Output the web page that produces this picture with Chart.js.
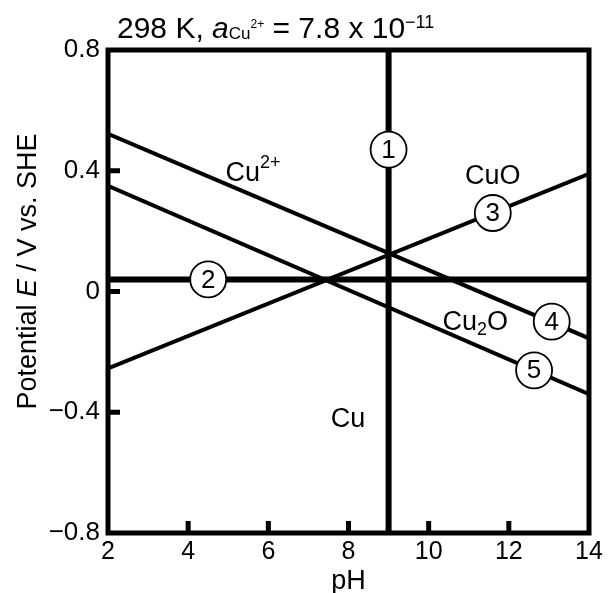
<!DOCTYPE html>
<html>
<head>
<meta charset="utf-8">
<script src="https://cdn.jsdelivr.net/npm/chart.js@4"></script>
<style>
  html, body { margin: 0; padding: 0; background: #fff; }
</style>
</head>
<body>
<canvas id="chart" width="613" height="593"></canvas>
<script>
// pH range and boundary lines of the Pourbaix diagram (E in V vs. SHE)
const phEnds = [2, 14];
const line1Ph = [9, 9];
const line1E = [-0.8, 0.8];
const line2E = [0.04, 0.04];
const line3E = [-0.255, 0.39];
const line4E = [0.522, -0.155];
const line5E = [0.35, -0.34];

// circled line numbers
const markerLabels = ['1', '2', '3', '4', '5'];
const markerPh = [9.0, 4.5, 11.6, 13.07, 12.63];
const markerE = [0.47, 0.04, 0.26, -0.10, -0.261];

// species regions
const regionPh = [5.62, 11.6, 11.16, 7.99];
const regionE = [0.40, 0.39, -0.094, -0.415];
const regionText = [
    [{ t: 'Cu' }, { t: '2+', size: 18, dy: -13 }],
    [{ t: 'CuO' }],
    [{ t: 'Cu' }, { t: '2', size: 18, dy: 5 }, { t: 'O' }],
    [{ t: 'Cu' }]
];

const yTicksInner = [-0.4, 0, 0.4];
const xTicksInner = [4, 6, 8, 10, 12];

const FONT = '"Liberation Sans", Arial, sans-serif';

function pairs(xs, ys) {
    return xs.map((x, i) => ({ x: x, y: ys[i] }));
}

function drawRich(ctx, parts, x, y, size, align) {
    // measure first so the whole run can be centered
    const pieces = parts.map(p => {
        const s = p.size || size;
        const style = p.italic ? 'italic ' : '';
        ctx.font = style + s + 'px ' + FONT;
        return { p: p, font: ctx.font, w: ctx.measureText(p.t).width };
    });
    const total = pieces.reduce((a, b) => a + b.w, 0);
    let cx = align === 'center' ? x - total / 2 : x;
    ctx.textAlign = 'left';
    ctx.textBaseline = 'alphabetic';
    pieces.forEach(pc => {
        ctx.font = pc.font;
        ctx.fillText(pc.p.t, cx, y + (pc.p.dy || 0));
        cx += pc.w;
    });
}

const decorPlugin = {
    id: 'decor',
    afterDatasetsDraw(chart) {
        const ctx = chart.ctx;
        const xs = chart.scales.x, ys = chart.scales.y;
        const area = chart.chartArea;
        ctx.save();
        ctx.fillStyle = '#000';

        // numbers inside circles
        ctx.font = '26px ' + FONT;
        ctx.textAlign = 'center';
        ctx.textBaseline = 'middle';
        markerLabels.forEach((t, i) => {
            ctx.fillText(t, xs.getPixelForValue(markerPh[i]), ys.getPixelForValue(markerE[i]) + 1);
        });

        // region names (baseline placed ~ at vertical centre + 0.36em)
        regionText.forEach((parts, i) => {
            const px = xs.getPixelForValue(regionPh[i]);
            const py = ys.getPixelForValue(regionE[i]) + 10;
            drawRich(ctx, parts, px, py, 27, 'center');
        });

        // inward ticks
        ctx.strokeStyle = '#000';
        ctx.lineWidth = 5;
        ctx.beginPath();
        yTicksInner.forEach(v => {
            const py = ys.getPixelForValue(v);
            ctx.moveTo(area.left, py);
            ctx.lineTo(area.left + 12, py);
        });
        xTicksInner.forEach(v => {
            const px = xs.getPixelForValue(v);
            ctx.moveTo(px, area.bottom);
            ctx.lineTo(px, area.bottom - 12);
        });
        ctx.stroke();

        // frame
        ctx.lineWidth = 5;
        ctx.strokeRect(area.left, area.top, area.right - area.left, area.bottom - area.top);
        ctx.restore();
    },
    afterDraw(chart) {
        const ctx = chart.ctx;
        const area = chart.chartArea;
        ctx.save();
        ctx.fillStyle = '#000';

        // heading
        drawRich(ctx, [
            { t: '298 K, ' },
            { t: 'a', italic: true },
            { t: 'Cu', size: 17, dy: 1 },
            { t: '2+', size: 12, dy: -10 },
            { t: ' = 7.8 x 10' },
            { t: '\u221211', size: 18, dy: -10 }
        ], 117, 38, 30, 'left');

        // y axis title, rotated
        ctx.translate(36, (area.top + area.bottom) / 2 - 20);
        ctx.rotate(-Math.PI / 2);
        const parts = [{ t: 'Potential ' }, { t: 'E', italic: true }, { t: ' / V vs. SHE' }];
        drawRich(ctx, parts, 0, 0, 27, 'center');
        ctx.restore();
    }
};

const lineStyle = { showLine: true, pointRadius: 0, borderColor: '#000', fill: false, order: 1 };

new Chart(document.getElementById('chart'), {
    type: 'scatter',
    data: {
        datasets: [
            {
                label: 'markers',
                data: pairs(markerPh, markerE),
                pointRadius: 18,
                pointBackgroundColor: '#fff',
                pointBorderColor: '#000',
                pointBorderWidth: 1.8,
                showLine: false,
                order: 0
            },
            Object.assign({ label: '1', data: pairs(line1Ph, line1E), borderWidth: 6 }, lineStyle),
            Object.assign({ label: '2', data: pairs(phEnds, line2E), borderWidth: 6 }, lineStyle),
            Object.assign({ label: '3', data: pairs(phEnds, line3E), borderWidth: 4 }, lineStyle),
            Object.assign({ label: '4', data: pairs(phEnds, line4E), borderWidth: 4 }, lineStyle),
            Object.assign({ label: '5', data: pairs(phEnds, line5E), borderWidth: 4 }, lineStyle)
        ]
    },
    options: {
        responsive: false,
        animation: false,
        devicePixelRatio: 1,
        layout: { padding: { top: 50, right: 24, left: 0, bottom: 0 } },
        plugins: {
            legend: { display: false },
            tooltip: { enabled: false }
        },
        scales: {
            x: {
                type: 'linear',
                min: 2,
                max: 14,
                ticks: {
                    stepSize: 2,
                    color: '#000',
                    padding: 4,
                    maxRotation: 0,
                    font: { family: FONT, size: 25 }
                },
                grid: { display: false, drawTicks: false },
                border: { display: false },
                title: {
                    display: true,
                    text: 'pH',
                    color: '#000',
                    padding: 0,
                    font: { family: FONT, size: 27, lineHeight: 0.85 }
                },
                afterFit(scale) { scale.height = 60; }
            },
            y: {
                min: -0.8,
                max: 0.8,
                ticks: {
                    stepSize: 0.4,
                    color: '#000',
                    padding: 8,
                    font: { family: FONT, size: 26 },
                    callback: v => Math.abs(v) < 1e-9 ? '0' : v.toFixed(1).replace('-', '\u2212')
                },
                grid: { display: false, drawTicks: false },
                border: { display: false },
                afterFit(scale) { scale.width = 108; }
            }
        }
    },
    plugins: [decorPlugin]
});
</script>
</body>
</html>
